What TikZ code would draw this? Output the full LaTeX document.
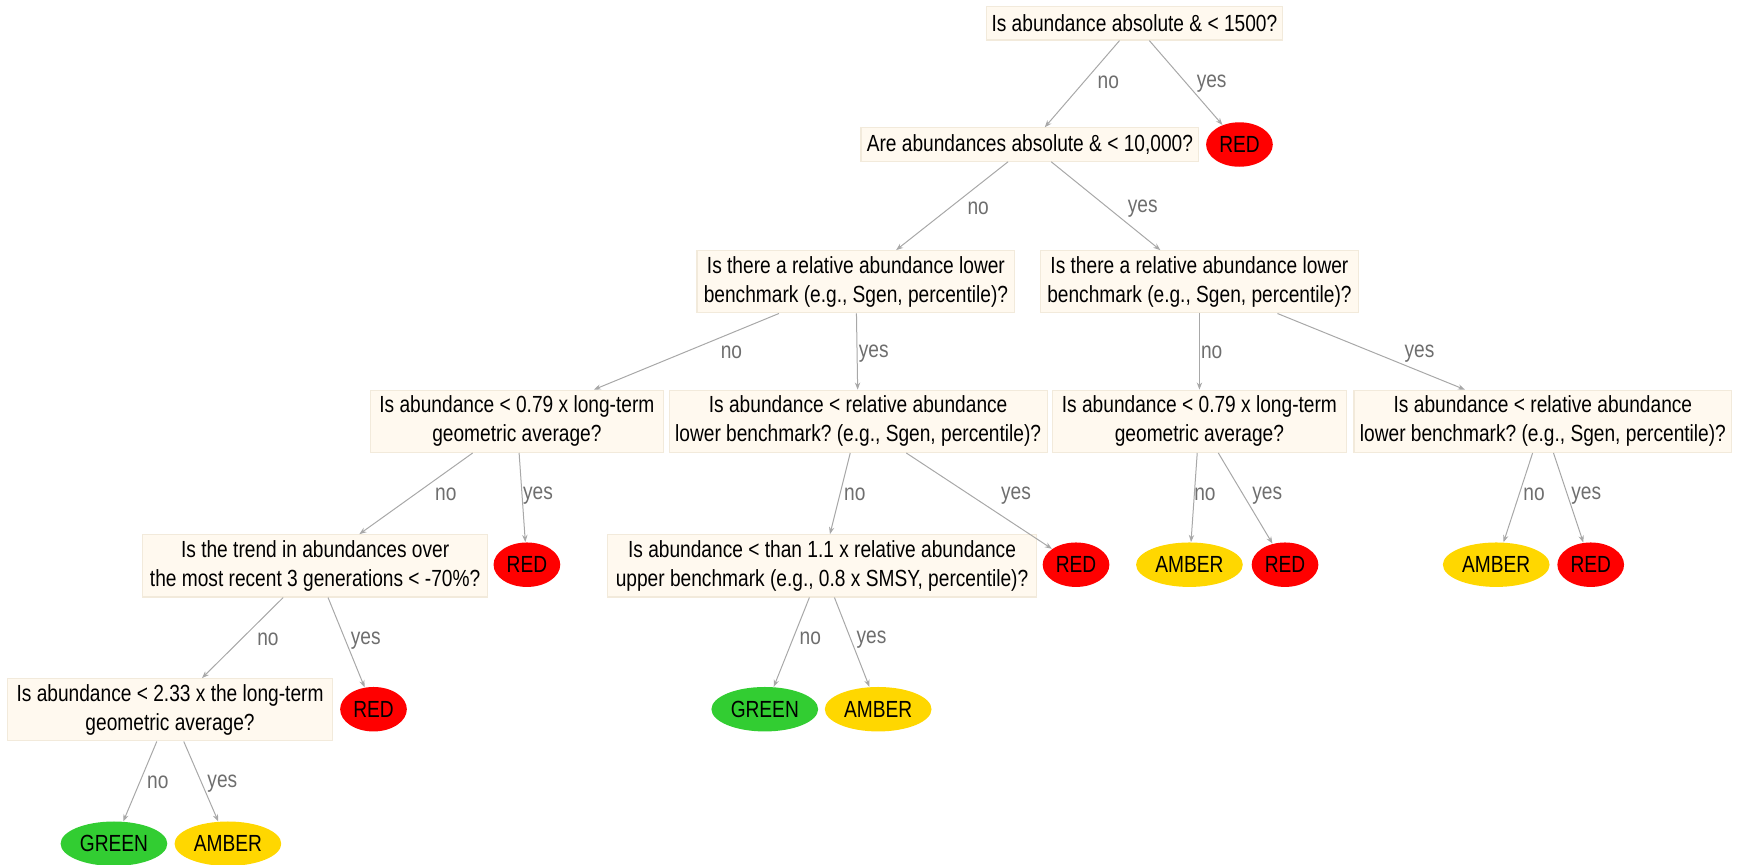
\documentclass[tikz,border=0pt]{standalone}
\usepackage{fontspec}
\setmainfont{Liberation Sans}[FakeStretch=0.82]
\usetikzlibrary{shapes.geometric,arrows.meta}
\definecolor{boxfill}{HTML}{FFF9EF}
\definecolor{boxline}{HTML}{F2EADB}
\definecolor{edgegray}{HTML}{A8A8A8}
\definecolor{lblgray}{HTML}{6E6E6E}
\definecolor{redc}{HTML}{FF0000}
\definecolor{greenc}{HTML}{32CD32}
\definecolor{amberc}{HTML}{FFD700}
\frenchspacing
\begin{document}
\begin{tikzpicture}[x=0.5pt,y=-0.5pt,
  every node/.style={font=\fontsize{10.5}{13}\selectfont\frenchspacing},
  qbox/.style={draw=boxline, fill=boxfill, line width=0.5pt, align=center, inner sep=0pt},
  one/.style={qbox, minimum height=15pt},
  two/.style={qbox, minimum height=28pt},
  leaf/.style={ellipse, inner sep=0pt, minimum height=20pt},
  redleaf/.style={leaf, fill=redc, minimum width=30pt},
  amberleaf/.style={leaf, fill=amberc, minimum width=48pt},
  greenleaf/.style={leaf, fill=greenc, minimum width=48pt},
  edge/.style={draw=edgegray, line width=0.45pt, -{Stealth[length=3.2pt,width=2.4pt]}},
  lbl/.style={text=lblgray, inner sep=0pt}
]
\useasboundingbox (0,0) rectangle (1568,778);

% question boxes
\node[one, minimum width=133pt] (top) at (1020.5,21) {Is abundance absolute \& < 1500?};
\node[one, minimum width=152pt] (q2) at (926.5,130) {Are abundances absolute \& < 10,000?};
\node[two, minimum width=143pt] (q3l) at (770,253.5) {Is there a relative abundance lower\\benchmark (e.g., Sgen, percentile)?};
\node[two, minimum width=143pt] (q3r) at (1079,253.5) {Is there a relative abundance lower\\benchmark (e.g., Sgen, percentile)?};
\node[two, minimum width=132pt] (qa) at (465,379) {Is abundance < 0.79 x long-term\\geometric average?};
\node[two, minimum width=170pt] (qb) at (772,379) {Is abundance < relative abundance\\lower benchmark? (e.g., Sgen, percentile)?};
\node[two, minimum width=132pt] (qc) at (1079,379) {Is abundance < 0.79 x long-term\\geometric average?};
\node[two, minimum width=170pt] (qd) at (1388,379) {Is abundance < relative abundance\\lower benchmark? (e.g., Sgen, percentile)?};
\node[two, minimum width=155pt] (qe) at (283.5,509) {Is the trend in abundances over\\the most recent 3 generations < -70\%?};
\node[two, minimum width=193pt] (qf) at (739.5,509) {Is abundance < than 1.1 x relative abundance\\upper benchmark (e.g., 0.8 x SMSY, percentile)?};
\node[two, minimum width=146pt] (qg) at (153,638.5) {Is abundance < 2.33 x the long-term\\geometric average?};

% leaves
\node[redleaf] (r1) at (1115,130) {RED};
\node[redleaf] (ra) at (474,508) {RED};
\node[redleaf] (rb) at (968,508) {RED};
\node[amberleaf] (ac) at (1070,508) {AMBER};
\node[redleaf] (rc) at (1156,508) {RED};
\node[amberleaf] (ad) at (1346,508) {AMBER};
\node[redleaf] (rd) at (1431,508) {RED};
\node[redleaf] (re) at (336,638) {RED};
\node[greenleaf] (gf) at (688,638) {GREEN};
\node[amberleaf] (af) at (790,638) {AMBER};
\node[greenleaf] (gg) at (102.5,759) {GREEN};
\node[amberleaf] (ag) at (205,759) {AMBER};

% connectors
\draw[edge] (top) -- (q2);
\draw[edge] (top) -- (r1);
\draw[edge] (q2) -- (q3l);
\draw[edge] (q2) -- (q3r);
\draw[edge] (q3l) -- (qa);
\draw[edge] (q3l) -- (qb);
\draw[edge] (q3r) -- (qc);
\draw[edge] (q3r) -- (qd);
\draw[edge] (qa) -- (qe);
\draw[edge] (qa) -- (ra);
\draw[edge] (qb) -- (qf);
\draw[edge] (qb) -- (rb);
\draw[edge] (qc) -- (ac);
\draw[edge] (qc) -- (rc);
\draw[edge] (qd) -- (ad);
\draw[edge] (qd) -- (rd);
\draw[edge] (qe) -- (qg);
\draw[edge] (qe) -- (re);
\draw[edge] (qf) -- (gf);
\draw[edge] (qf) -- (af);
\draw[edge] (qg) -- (gg);
\draw[edge] (qg) -- (ag);

% connector labels
\node[lbl] (l1n) at (997,74) {no};
\node[lbl] (l1y) at (1090,75) {yes};
\node[lbl] (l2n) at (880,187) {no};
\node[lbl] (l2y) at (1028,188) {yes};
\node[lbl] (l3ln) at (658,317) {no};
\node[lbl] (l3ly) at (786,318) {yes};
\node[lbl] (l3rn) at (1090,317) {no};
\node[lbl] (l3ry) at (1277,318) {yes};
\node[lbl] (lan) at (401,445) {no};
\node[lbl] (lay) at (484,446) {yes};
\node[lbl] (lbn) at (769,445) {no};
\node[lbl] (lby) at (914,446) {yes};
\node[lbl] (lcn) at (1084,445) {no};
\node[lbl] (lcy) at (1140,446) {yes};
\node[lbl] (ldn) at (1380,445) {no};
\node[lbl] (ldy) at (1427,446) {yes};
\node[lbl] (len) at (241,575) {no};
\node[lbl] (ley) at (329,576) {yes};
\node[lbl] (lfn) at (729,574) {no};
\node[lbl] (lfy) at (784,575) {yes};
\node[lbl] (lgn) at (142,704) {no};
\node[lbl] (lgy) at (200,705) {yes};
\end{tikzpicture}
\end{document}
